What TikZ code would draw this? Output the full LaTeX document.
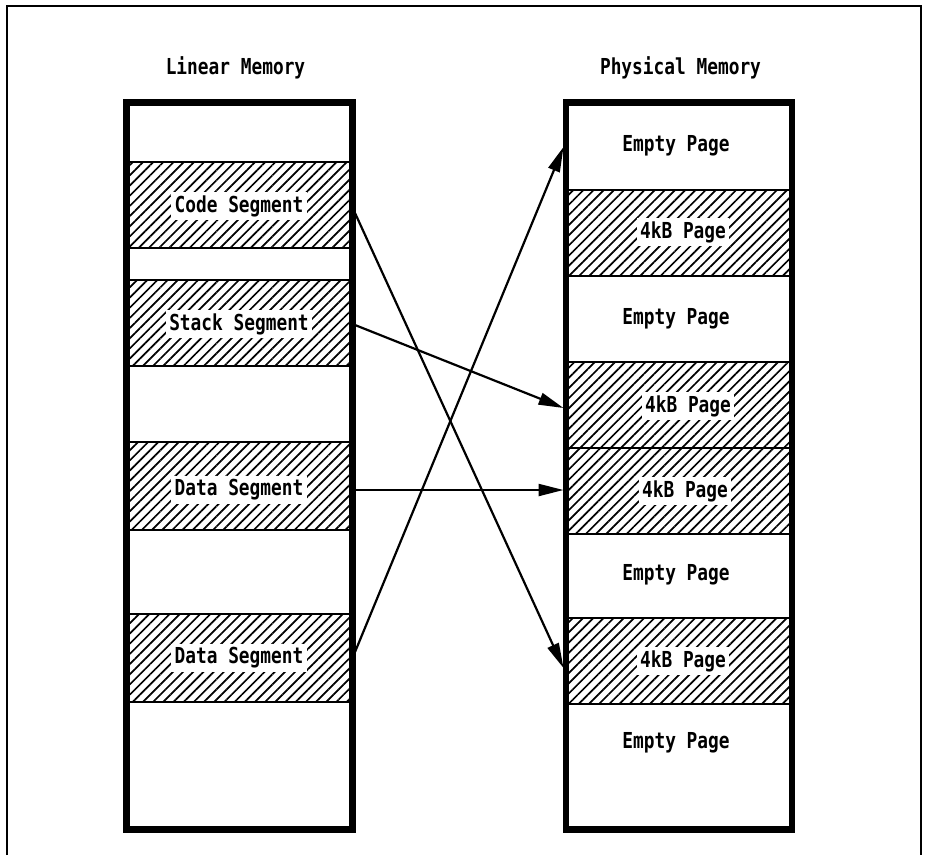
\documentclass[tikz,border=0pt]{standalone}
\usepackage{fontspec}
\newfontfamily\memfont[FakeStretch=0.81]{DejaVu Sans Mono}
\usetikzlibrary{patterns.meta, arrows.meta}

\tikzset{
  row/.style={minimum width=231pt, inner sep=0pt, outer sep=0pt, draw=black, line width=1.8pt},
  hatch/.style={pattern={Lines[angle=45, distance=7.2pt, line width=1.7pt]}, pattern color=black},
  lab/.style={font=\memfont\bfseries\fontsize{22}{25}\selectfont, inner sep=3.5pt},
  boxlab/.style={lab, fill=white},
  outline/.style={line width=6.5pt, draw=black},
  frameline/.style={line width=1.3pt, draw=black},
  link/.style={line width=2.2pt, -{Triangle[length=25pt, width=12pt]}}
}

\begin{document}
\begin{tikzpicture}[x=1pt, y=-1pt]
  \useasboundingbox (0,0) rectangle (927,855);
  \fill[white] (0,0) rectangle (927,855);

  % page frame (open at the bottom)
  \draw[frameline] (7,855) -- (7,6) -- (921,6) -- (921,855);

  % titles
  \node[lab] (ltitle) at (235.5,68) {Linear Memory};
  \node[lab] (ptitle) at (680.5,68) {Physical Memory};

  % linear memory column
  \node[row, minimum height=62pt] (lfree1) at (239.5,131) {};
  \node[row, hatch, minimum height=86pt] (code) at (239.5,205) {};
  \node[row, minimum height=32pt] (lfree2) at (239.5,264) {};
  \node[row, hatch, minimum height=86pt] (stack) at (239.5,323) {};
  \node[row, minimum height=76pt] (lfree3) at (239.5,404) {};
  \node[row, hatch, minimum height=88pt] (dataA) at (239.5,486) {};
  \node[row, minimum height=84pt] (lfree4) at (239.5,572) {};
  \node[row, hatch, minimum height=88pt] (dataB) at (239.5,658) {};
  \node[row, minimum height=130pt] (lfree5) at (239.5,767) {};
  \draw[outline] (127,103) rectangle (352,829);

  \node[boxlab] (codeL) at (239,206) {Code Segment};
  \node[boxlab] (stackL) at (239,324) {Stack Segment};
  \node[boxlab] (dataAL) at (239,490) {Data Segment};
  \node[boxlab] (dataBL) at (239,658) {Data Segment};

  % physical memory column
  \node[row, minimum height=90pt] (p1) at (679,145) {};
  \node[row, hatch, minimum height=86pt] (p2) at (679,233) {};
  \node[row, minimum height=86pt] (p3) at (679,319) {};
  \node[row, hatch, minimum height=86pt] (p4) at (679,405) {};
  \node[row, hatch, minimum height=86pt] (p5) at (679,491) {};
  \node[row, minimum height=84pt] (p6) at (679,576) {};
  \node[row, hatch, minimum height=86pt] (p7) at (679,661) {};
  \node[row, minimum height=128pt] (p8) at (679,768) {};
  \draw[outline] (566,103) rectangle (792,829);

  \node[lab] (p1L) at (676,146) {Empty Page};
  \node[boxlab] (p2L) at (683,232) {4kB Page};
  \node[lab] (p3L) at (676,319) {Empty Page};
  \node[boxlab] (p4L) at (688,406) {4kB Page};
  \node[boxlab] (p5L) at (685,491) {4kB Page};
  \node[lab] (p6L) at (676,575) {Empty Page};
  \node[boxlab] (p7L) at (683,661) {4kB Page};
  \node[lab] (p8L) at (676,743) {Empty Page};

  % segment-to-page mappings
  \draw[link] ([yshift=-8pt]code.east) -- ([yshift=-7pt]p7.west);
  \draw[link] ([yshift=-2pt]stack.east) -- ([yshift=-3pt]p4.west);
  \draw[link] ([yshift=-4pt]dataA.east) -- ([yshift=1pt]p5.west);
  \draw[link] ([yshift=6pt]dataB.east) -- ([yshift=-2pt]p1.west);
\end{tikzpicture}
\end{document}
